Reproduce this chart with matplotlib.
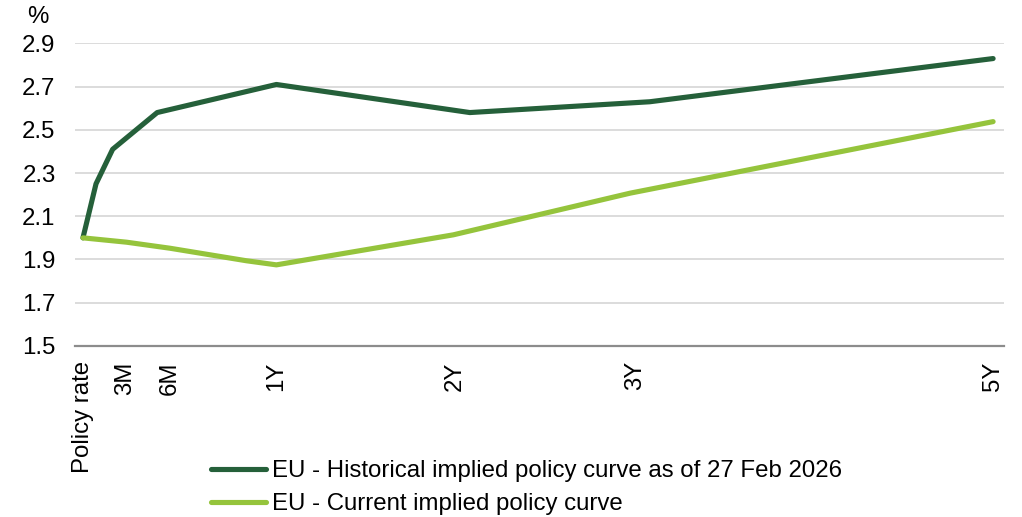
import matplotlib
matplotlib.use('Agg')
import matplotlib.pyplot as plt

# x values are months forward from today
hist_months = [0, 0.87, 1.98, 4.95, 12.9, 25.8, 37.8, 60.7]
hist_rate = [2.00, 2.25, 2.41, 2.58, 2.71, 2.58, 2.63, 2.83]

curr_months = [0, 2.9, 5.8, 10.9, 12.9, 24.7, 36.5, 60.7]
curr_rate = [2.00, 1.98, 1.952, 1.894, 1.875, 2.014, 2.207, 2.538]

tick_labels = ['Policy rate', '3M', '6M', '1Y', '2Y', '3Y', '5Y']
tick_months = [0, 2.8, 5.8, 12.9, 24.8, 36.8, 60.7]

hist_label = 'EU - Historical implied policy curve as of 27 Feb 2026'
curr_label = 'EU - Current implied policy curve'


def generate():
    plt.rcParams['font.family'] = ['Liberation Sans', 'DejaVu Sans']
    fs = 17.3

    fig = plt.figure(figsize=(10.22, 5.17), dpi=100)
    ax = fig.add_axes([0.0734, 0.331, 0.9086, 0.585])

    ax.plot(hist_months, hist_rate, color='#25603a', lw=3.7,
            solid_capstyle='round', solid_joinstyle='round', label=hist_label)
    ax.plot(curr_months, curr_rate, color='#95c43c', lw=3.7,
            solid_capstyle='round', solid_joinstyle='round', label=curr_label)

    ax.set_ylim(1.5, 2.9)
    ax.set_yticks([1.5, 1.7, 1.9, 2.1, 2.3, 2.5, 2.7, 2.9])
    ax.set_yticklabels(['1.5', '1.7', '1.9', '2.1', '2.3', '2.5', '2.7', '2.9'])
    ax.set_xlim(-0.53, 61.4)
    ax.set_xticks(tick_months)
    ax.set_xticklabels(tick_labels, rotation=90, va='top', ha='center')

    ax.tick_params(axis='both', length=0, labelsize=fs, colors='black')
    ax.tick_params(axis='y', pad=14)
    ax.tick_params(axis='x', pad=11)

    ax.grid(axis='y', color='#d9d9d9', lw=1.3)
    ax.set_axisbelow(True)
    for side in ['left', 'right', 'top']:
        ax.spines[side].set_visible(False)
    ax.spines['bottom'].set_color('#8c8c8c')
    ax.spines['bottom'].set_linewidth(1.6)

    fig.text(0.037, 0.968, '%', fontsize=fs, ha='center', va='center')

    fig.legend(loc='upper left', bbox_to_anchor=(0.197, 0.128), frameon=False,
               fontsize=fs, handlelength=2.3, handletextpad=0.25,
               labelspacing=0.45, borderaxespad=0)

    fig.savefig('out.png', dpi=100)


if __name__ == "__main__":
    generate()
